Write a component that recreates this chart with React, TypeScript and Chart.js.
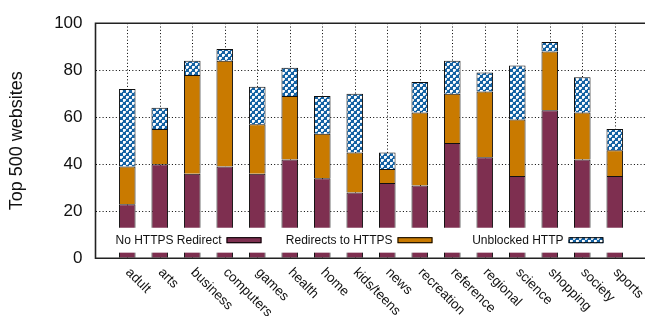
import React, { useEffect, useRef } from "react";
import { Chart, registerables } from "chart.js";

Chart.register(...registerables);

const categories = ["adult", "arts", "business", "computers", "games", "health", "home", "kids/teens", "news", "recreation", "reference", "regional", "science", "shopping", "society", "sports"];
const noRedirect = [23, 40, 36, 39, 36, 42, 34, 28, 32, 31, 49, 43, 35, 63, 42, 35];
const redirects = [16, 15, 42, 45, 21, 27, 19, 17, 6, 31, 21, 28, 24, 25, 20, 11];
const unblocked = [33, 9, 6, 5, 16, 12, 16, 25, 7, 13, 14, 8, 23, 4, 15, 9];
const seriesNames = ["No HTTPS Redirect", "Redirects to HTTPS", "Unblocked HTTP"];
const yTicks = [0, 20, 40, 60, 80, 100];
const yTitle = "Top 500 websites";

const PURPLE = "#7e2f50";
const ORANGE = "#c97a00";
const BLUE = "#1462a3";
const FONT = "'Liberation Sans', Arial, Helvetica, sans-serif";

function makePattern(): CanvasPattern | string {
  const c = document.createElement("canvas");
  c.width = 6;
  c.height = 6;
  const g = c.getContext("2d");
  if (!g) return BLUE;
  g.fillStyle = BLUE;
  g.fillRect(0, 0, 6, 6);
  g.fillStyle = "#ffffff";
  g.fillRect(0, 0, 2, 2);
  g.fillRect(3, 3, 2, 2);
  g.fillStyle = "#dbe7f2";
  g.fillRect(2, 0, 1, 2);
  g.fillRect(0, 2, 2, 1);
  g.fillRect(5, 3, 1, 2);
  g.fillRect(3, 5, 2, 1);
  const p = g.createPattern(c, "repeat");
  return p || BLUE;
}

export default function App() {
  const ref = useRef<HTMLCanvasElement | null>(null);
  useEffect(() => {
    if (!ref.current) return;
    const pattern = makePattern();
    const fills = [PURPLE, ORANGE, pattern];
    const series = [noRedirect, redirects, unblocked];

    const decor = {
      id: "decor",
      beforeDatasetsDraw(chart: any) {
        const { ctx, chartArea } = chart;
        const xs = chart.scales.x;
        ctx.save();
        ctx.strokeStyle = "#000";
        ctx.lineWidth = 1;
        ctx.setLineDash([1, 2.3]);
        categories.forEach((_, i) => {
          const x = Math.round(xs.getPixelForValue(i)) + 0.5;
          ctx.beginPath();
          ctx.moveTo(x, chartArea.top);
          ctx.lineTo(x, chartArea.bottom);
          ctx.stroke();
        });
        ctx.restore();
      },
      afterDatasetsDraw(chart: any) {
        const { ctx, chartArea } = chart;
        const ys = chart.scales.y;
        ctx.save();
        const boxTop = ys.getPixelForValue(13);
        const boxBot = ys.getPixelForValue(2.4);
        ctx.fillStyle = "#fff";
        ctx.fillRect(chartArea.left + 1, boxTop, chartArea.right - chartArea.left - 1, boxBot - boxTop);
        const ly = (boxTop + boxBot) / 2;
        ctx.font = `12px ${FONT}`;
        ctx.textAlign = "right";
        ctx.textBaseline = "middle";
        seriesNames.forEach((name, i) => {
          const tx = chartArea.left + 126 + i * 171;
          ctx.fillStyle = "#111";
          ctx.fillText(name, tx, ly);
          const sx = tx + 5;
          ctx.fillStyle = fills[i] as any;
          ctx.fillRect(sx, ly - 3, 35, 6);
          ctx.strokeStyle = "#000";
          ctx.lineWidth = 1;
          ctx.strokeRect(sx + 0.5, ly - 3 + 0.5, 34, 5);
        });
        ctx.strokeStyle = "#222";
        ctx.lineWidth = 1.6;
        ctx.beginPath();
        ctx.moveTo(chartArea.right, chartArea.top);
        ctx.lineTo(chartArea.left, chartArea.top);
        ctx.lineTo(chartArea.left, chartArea.bottom);
        ctx.lineTo(chartArea.right, chartArea.bottom);
        ctx.stroke();
        ctx.restore();
      },
      afterDraw(chart: any) {
        const { ctx, chartArea } = chart;
        const xs = chart.scales.x;
        ctx.save();
        ctx.font = `13.5px ${FONT}`;
        ctx.fillStyle = "#111";
        ctx.textAlign = "left";
        ctx.textBaseline = "middle";
        categories.forEach((c, i) => {
          const x = xs.getPixelForValue(i);
          ctx.save();
          ctx.translate(x + 0.5, chartArea.bottom + 12);
          ctx.rotate(Math.PI / 4);
          ctx.fillText(c, 0, 0);
          ctx.restore();
        });
        ctx.restore();
      },
    };

    const chart = new Chart(ref.current, {
      type: "bar",
      data: {
        datasets: series.map((s, k) => ({
          label: seriesNames[k],
          data: s.map((v, i) => ({ x: i, y: v })),
          backgroundColor: fills[k] as any,
          borderColor: "#111",
          borderWidth: 1,
          borderSkipped: "start",
          barPercentage: 0.51,
          categoryPercentage: 1,
        })),
      },
      options: {
        animation: false,
        responsive: false,
        layout: { padding: { left: 0, top: 16.7, right: 0, bottom: 57.7 } },
        plugins: { legend: { display: false }, tooltip: { enabled: false } },
        scales: {
          x: {
            type: "linear",
            display: false,
            stacked: true,
            min: -0.977,
            max: 15.93,
            offset: false,
          },
          y: {
            stacked: true,
            min: 0,
            max: 100,
            afterFit: (s: any) => {
              s.width = 95.5;
            },
            afterBuildTicks: (s: any) => {
              s.ticks = yTicks.map((v) => ({ value: v }));
            },
            ticks: {
              color: "#111",
              padding: 13,
              font: { family: FONT, size: 17 },
            },
            grid: {
              color: (c: any) => (c.tick && (c.tick.value === 0 || c.tick.value === 100) ? "rgba(0,0,0,0)" : "#000"),
              lineWidth: 1,
              drawTicks: false,
            },
            border: { display: false, dash: [1, 2.3] },
            title: {
              display: true,
              text: yTitle,
              color: "#111",
              font: { family: FONT, size: 18, weight: "normal" },
              padding: { top: 6, bottom: 0 },
            },
          },
        },
      },
      plugins: [decor],
    });
    return () => chart.destroy();
  }, []);
  return (
    <div style={{ position: "absolute", left: 0, top: 0, width: 645, height: 316, background: "#fff" }}>
      <canvas ref={ref} width={645} height={316} style={{ display: "block", width: 645, height: 316 }} />
    </div>
  );
}
